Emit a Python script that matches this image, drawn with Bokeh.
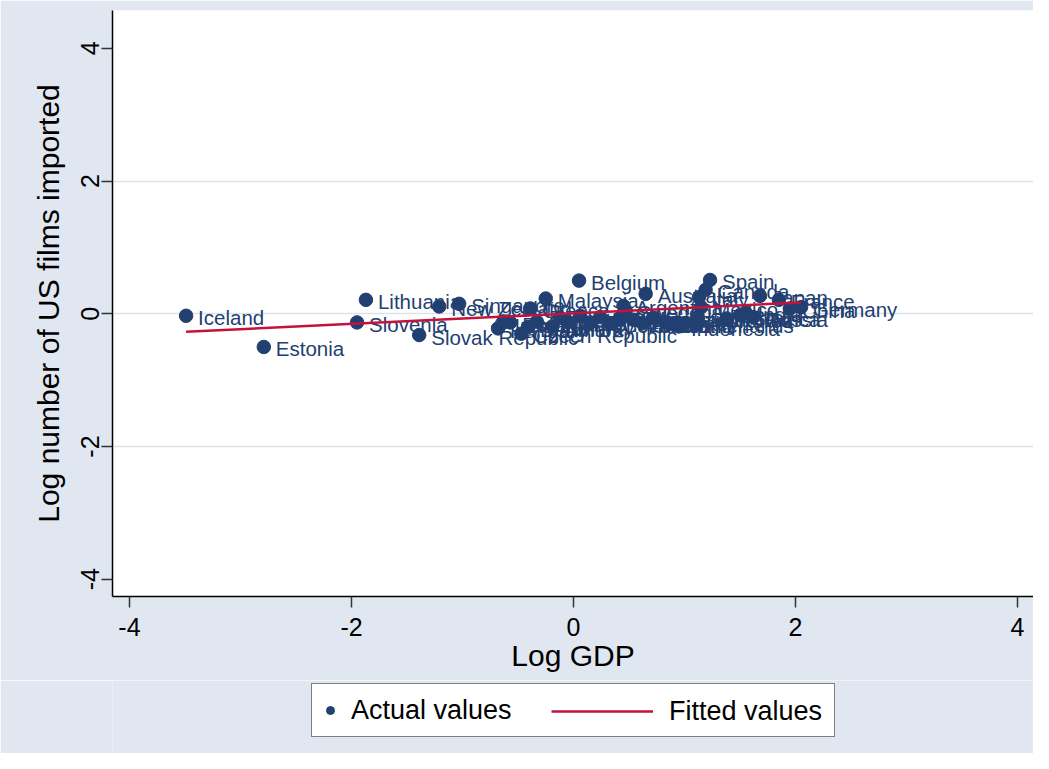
from bokeh.plotting import figure
from bokeh.models import ColumnDataSource, Range1d, FixedTicker, Legend, LegendItem
from bokeh.layouts import column
from bokeh.core.properties import value
from bokeh.embed import file_html
from bokeh.resources import INLINE

# ---- data ----
countries = ["Iceland", "Estonia", "Lithuania", "Slovenia", "Slovak Republic",
             "New Zealand", "Singapore", "Malaysia", "Belgium", "Czech Republic",
             "Hungary", "Ireland", "Greece", "Portugal", "Denmark", "Finland",
             "Norway", "Israel", "Chile", "Austria", "Venezuela", "Philippines",
             "Colombia", "Switzerland", "Argentina", "Sweden", "Egypt", "Thailand",
             "Australia", "Poland", "Turkey", "Netherlands", "Indonesia",
             "South Africa", "Mexico", "Italy", "Canada", "Spain", "Korea",
             "Brazil", "India", "Russia", "Japan", "France", "China", "Germany"]
log_gdp = [-3.49, -2.79, -1.87, -1.95, -1.39,
           -1.21, -1.03, -0.25, 0.05, -0.47,
           -0.68, -0.64, -0.39, -0.57, -0.41, -0.33,
           -0.19, -0.12, -0.05, 0.06, 0.15, 0.24,
           0.33, 0.42, 0.45, 0.47, 0.54, 0.62,
           0.65, 0.72, 0.82, 0.88, 0.95,
           1.12, 1.15, 1.13, 1.19, 1.23, 1.38,
           1.50, 1.55, 1.62, 1.68, 1.85, 1.95, 2.05]
log_films = [-0.03, -0.50, 0.21, -0.13, -0.32,
             0.11, 0.15, 0.23, 0.50, -0.30,
             -0.22, -0.14, 0.08, -0.13, -0.20, -0.12,
             -0.19, -0.06, -0.12, -0.03, -0.13, -0.05,
             -0.14, -0.06, 0.12, 0.05, -0.09, -0.14,
             0.30, -0.06, -0.12, -0.15, -0.19,
             -0.05, 0.10, 0.25, 0.36, 0.51, -0.07,
             -0.02, 0.02, -0.05, 0.27, 0.21, 0.08, 0.10]
fit_x = [-3.49, 2.05]
fit_y = [-0.27, 0.17]
x_ticks = [-4, -2, 0, 2, 4]
y_ticks = [-4, -2, 0, 2, 4]
grid_ticks = [-2, 0, 2]
legend_labels = ["Actual values", "Fitted values"]

NAVY = "#223F72"
RED = "#C4123B"
BG = "#E1E7F0"
FONT = "Liberation Sans"

src = ColumnDataSource(dict(x=log_gdp, y=log_films, name=countries))
fit = ColumnDataSource(dict(x=fit_x, y=fit_y))

p = figure(width=1033, height=680,
           min_border_left=112, min_border_right=0, min_border_top=10, min_border_bottom=84,
           x_range=Range1d(-4.153, 4.144), y_range=Range1d(-4.26, 4.57),
           output_backend="svg", toolbar_location=None,
           background_fill_color="white", border_fill_color=BG, outline_line_color=None)

sc = p.scatter("x", "y", source=src, size=13.5, color=NAVY, line_color=NAVY)
p.text("x", "y", text="name", source=src, x_offset=12, y_offset=2,
       text_baseline="middle", text_align="left", text_color=NAVY,
       text_font=value(FONT), text_font_size="20.5px")
ln = p.line("x", "y", source=fit, line_color=RED, line_width=2.5)

for ax in (p.xaxis[0], p.yaxis[0]):
    ax.axis_line_color = "black"
    ax.axis_line_width = 1.5
    ax.major_tick_out = 11
    ax.major_tick_in = 0
    ax.major_tick_line_color = "#333333"
    ax.major_tick_line_width = 1.5
    ax.minor_tick_line_color = None
    ax.major_label_text_font = FONT
    ax.major_label_text_font_size = "25px"
    ax.major_label_text_color = "black"
    ax.axis_label_text_font = FONT
    ax.axis_label_text_font_size = "30px"
    ax.axis_label_text_font_style = "normal"
    ax.axis_label_text_color = "black"

p.xaxis.ticker = FixedTicker(ticks=x_ticks)
p.yaxis.ticker = FixedTicker(ticks=y_ticks)
p.xaxis.major_label_overrides = {t: str(t) for t in x_ticks}
p.yaxis.major_label_overrides = {t: str(t) for t in y_ticks}
p.xaxis.axis_label = "Log GDP"
p.yaxis.axis_label = "Log number of US films imported"
p.yaxis.major_label_orientation = "vertical"
p.xaxis.major_label_standoff = 10
p.yaxis.major_label_standoff = 2
p.xaxis.axis_label_standoff = 0
p.yaxis.axis_label_standoff = 14

p.xgrid.grid_line_color = None
p.ygrid.ticker = FixedTicker(ticks=grid_ticks)
p.ygrid.grid_line_color = "#DCE2EC"
p.ygrid.grid_line_width = 1.5

# ---- legend strip below the chart (its frame is aligned with the chart's frame) ----
lf = figure(width=1033, height=73, min_border_left=112, min_border_right=0,
            min_border_top=0, min_border_bottom=0, x_axis_type=None, y_axis_type=None,
            x_range=Range1d(0, 1), y_range=Range1d(0, 1),
            output_backend="svg", toolbar_location=None,
            background_fill_color=BG, border_fill_color=BG, outline_line_color=None)
lf.grid.grid_line_color = None
# legend swatches only: their single point lies outside the visible range
key_sc = lf.scatter(x=[-10], y=[-10], size=13.5, color=NAVY, line_color=NAVY)
key_ln = lf.line(x=[-10, -9], y=[-10, -10], line_color=RED, line_width=2.5)

leg1 = Legend(items=[LegendItem(label=legend_labels[0], renderers=[key_sc])],
              location=(199, 16), orientation="horizontal", margin=0,
              glyph_width=20, glyph_height=36, label_height=36, label_width=475,
              label_standoff=11, padding=8, spacing=0,
              border_line_color="black", border_line_width=1.5,
              background_fill_color="white", background_fill_alpha=1.0,
              label_text_font=FONT, label_text_font_size="27px", label_text_color="black")
leg2 = Legend(items=[LegendItem(label=legend_labels[1], renderers=[key_ln])],
              location=(439, 24), orientation="horizontal", margin=0,
              glyph_width=102, glyph_height=36, label_height=36,
              label_standoff=16, padding=0, spacing=0,
              border_line_alpha=0, background_fill_alpha=0,
              label_text_font=FONT, label_text_font_size="27px", label_text_color="black")
lf.add_layout(leg1, "center")
lf.add_layout(leg2, "center")

layout = column(p, lf, spacing=0)
open("out.html", "w").write(file_html(layout, INLINE))
